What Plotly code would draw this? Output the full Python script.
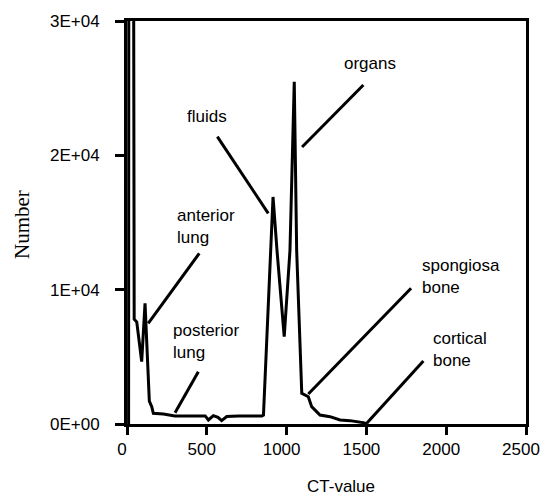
import plotly.graph_objects as go

# Histogram data (CT-value vs number of voxels)
ct_value = [10, 12, 38, 45, 61, 92, 113, 140, 155, 165, 228, 300, 490, 510, 541, 570, 593, 625,
            700, 845, 855, 915, 940, 985, 1021, 1048, 1063, 1095, 1136, 1157, 1209, 1272,
            1335, 1397, 1481, 1505]
number = [0, 60000, 60000, 7800, 7600, 4650, 8980, 1700, 1290, 800, 740, 600, 600, 300, 620,
          500, 250, 560, 600, 600, 670, 16900, 12900, 6500, 12900, 25480, 12950, 2285, 2030,
          1290, 670, 545, 300, 250, 100, 0]

# Axis ticks
x_ticks = [0, 500, 1000, 1500, 2000, 2500]
x_tick_labels = ["0", "500", "1000", "1500", "2000", "2500"]
y_ticks = [0, 10000, 20000, 30000]
y_tick_labels = ["0E+00", "1E+04", "2E+04", "3E+04"]

# Tissue labels (text, left x, middle y in data units)
label_text = ["organs", "fluids", "anterior<br>lung", "posterior<br>lung",
              "spongiosa<br>bone", "cortical<br>bone"]
label_x = [1345, 363, 301, 274, 1836, 1903]
label_y = [26873, 22928, 14702, 6141, 10995, 5523]

# Pointer lines (from label end to curve feature)
ptr_x0 = [1481, 566, 453, 447, 1780, 1857]
ptr_y0 = [25236, 21387, 12707, 3893, 10101, 4690]
ptr_x1 = [1097, 885, 133, 301, 1136, 1502]
ptr_y1 = [20620, 15685, 7496, 841, 2233, 52]

fig = go.Figure()
fig.add_trace(go.Scatter(x=ct_value, y=number, mode="lines",
                         line=dict(color="black", width=3), showlegend=False,
                         hoverinfo="skip"))

for i in range(len(ptr_x0)):
    fig.add_shape(type="line", xref="x", yref="y",
                  x0=ptr_x0[i], y0=ptr_y0[i], x1=ptr_x1[i], y1=ptr_y1[i],
                  line=dict(color="black", width=3))

for t, x, y in zip(label_text, label_x, label_y):
    fig.add_annotation(x=x, y=y, xref="x", yref="y", text=t, showarrow=False,
                       xanchor="left", yanchor="middle", align="left",
                       font=dict(family="Liberation Sans, Arial", size=17, color="black"))

fig.add_annotation(x=0.536, y=-0.156, xref="paper", yref="paper", text="CT-value",
                   showarrow=False, xanchor="center", yanchor="middle",
                   font=dict(family="Liberation Sans, Arial", size=17, color="black"))
fig.add_annotation(x=-0.263, y=0.494, xref="paper", yref="paper", text="Number",
                   showarrow=False, xanchor="center", yanchor="middle", textangle=-90,
                   font=dict(family="Liberation Serif, Times New Roman", size=21, color="black"))

axis_common = dict(showgrid=False, zeroline=False, showline=True, linecolor="black",
                   linewidth=3, mirror=True, ticks="outside", tickcolor="black",
                   tickwidth=3, automargin=False,
                   tickfont=dict(family="Liberation Sans, Arial", size=17, color="black"))

fig.update_xaxes(range=[0, 2500], tickvals=x_ticks, ticktext=x_tick_labels, ticklen=8,
                 ticklabelshift=-5, ticklabeloverflow="allow", **axis_common)
fig.update_yaxes(range=[0, 30000], tickvals=y_ticks, ticktext=y_tick_labels, ticklen=9,
                 ticklabelstandoff=12, **axis_common)

fig.update_layout(width=541, height=495, margin=dict(l=127, r=15, t=21, b=71),
                  plot_bgcolor="white", paper_bgcolor="white")

# remove the default page margin so the figure fills the window exactly
fig.write_html("out.html", config={"displayModeBar": False},
               post_script="document.body.style.margin='0';document.body.style.overflow='hidden';")
